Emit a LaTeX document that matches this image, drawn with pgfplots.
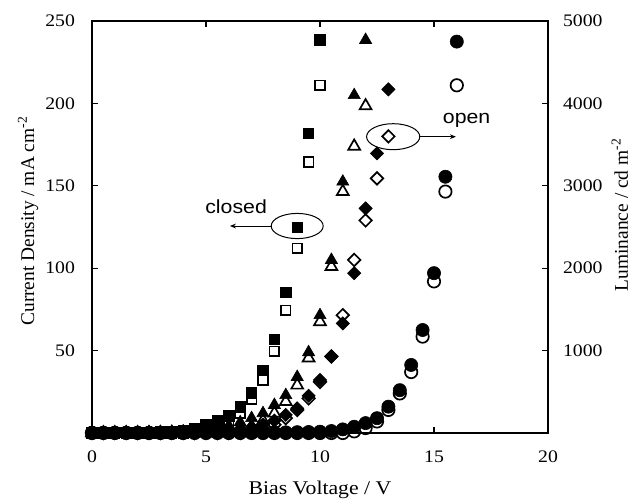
\documentclass[border=0pt]{standalone}
\usepackage{fontspec}
\setmainfont{Liberation Serif}[FakeStretch=1.12]
\newfontfamily\rotfont{Liberation Serif}
\newfontfamily\annfont{Liberation Sans}[FakeStretch=1.12]
\usepackage{pgfplots}
\pgfplotsset{compat=1.18}
\usetikzlibrary{arrows.meta}
\begin{document}
\begin{tikzpicture}
\pgfplotsset{
  base/.style={width=228pt,height=206pt,scale only axis,xmin=0,xmax=20,clip=false,
    tick align=inside, major tick length=3pt,
    axis line style={line width=0.8pt},
    every tick/.style={line width=0.6pt, black},
    /pgf/number format/assume math mode=true,
    /pgf/number format/1000 sep={},
    ticklabel style={font=\fontsize{8.8}{10}\selectfont}},
  openmk/.style={only marks, black, mark options={fill=white, draw=black, line width=0.85pt}},
  fillmk/.style={only marks, black, mark options={fill=black, draw=black, line width=0.3pt}},
}
% ---------- Luminance (open symbols, right axis) ----------
\begin{axis}[base, ymin=0, ymax=5000,
  axis x line=none, axis y line*=right,
  ytick={1000,2000,3000,4000,5000},
  yticklabel style={xshift=4pt},
  ylabel={Luminance / cd m\textsuperscript{-2}},
  every axis y label/.style={at={(axis description cs:1.175,0.53)}, rotate=90, anchor=base,
    font=\rotfont\fontsize{9.7}{11}\selectfont}]
% open squares
\addplot[openmk, mark=square*, mark size=2.4pt] coordinates {
 (0,0) (0.5,0) (1,0) (1.5,0) (2,0) (2.5,0) (3,0) (3.5,0) (4,0) (4.5,10) (5,30) (5.5,60)
 (6,120) (6.5,240) (7,410) (7.5,640) (8,990) (8.5,1490) (9,2240) (9.5,3290) (10,4220)};
% open triangles
\addplot[openmk, mark=triangle*, mark size=3.4pt] coordinates {
 (0,0) (0.5,0) (1,0) (1.5,0) (2,0) (2.5,0) (3,0) (3.5,0) (4,0) (4.5,0) (5,0) (5.5,0)
 (6,20) (6.5,40) (7,80) (7.5,150) (8,240) (8.5,380) (9,580) (9.5,910) (10,1350)
 (10.5,2020) (11,2930) (11.5,3480) (12,3970)};
% open diamonds
\addplot[only marks, mark=square*, mark size=2.2pt,
  mark options={fill=white, draw=black, line width=0.85pt, rotate=45}] coordinates {
 (0,0) (0.5,0) (1,0) (1.5,0) (2,0) (2.5,0) (3,0) (3.5,0) (4,0) (4.5,0) (5,0) (5.5,0)
 (6,0) (6.5,0) (7,20) (7.5,50) (8,100) (8.5,180) (9,280) (9.5,420) (10,620)
 (10.5,930) (11,1430) (11.5,2100) (12,2580) (12.5,3090) (13,3600)};
% open circles
\addplot[openmk, mark=*, mark size=3.1pt] coordinates {
 (0,0) (0.5,0) (1,0) (1.5,0) (2,0) (2.5,0) (3,0) (3.5,0) (4,0) (4.5,0) (5,0) (5.5,0)
 (6,0) (6.5,0) (7,0) (7.5,0) (8,0) (8.5,0) (9,0) (9.5,0) (10,0) (10.5,0) (11,0)
 (11.5,20) (12,60) (12.5,140) (13,280) (13.5,480) (14,740) (14.5,1170) (15,1840)
 (15.5,2930) (16,4220)};
\end{axis}
% ---------- Current density (filled symbols, left axis) ----------
\begin{axis}[base, ymin=0, ymax=250,
  xtick={0,5,10,15,20}, ytick={50,100,150,200,250}, ytick pos=left,
  yticklabel style={xshift=-5pt}, xticklabel style={yshift=-5.5pt},
  xlabel={Bias Voltage / V},
  every axis x label/.style={at={(axis description cs:0.5,-0.150)}, anchor=base,
    font=\fontsize{9.7}{11}\selectfont},
  ylabel={Current Density / mA cm\textsuperscript{-2}},
  every axis y label/.style={at={(axis description cs:-0.127,0.515)}, rotate=90, anchor=base,
    font=\rotfont\fontsize{9.7}{11}\selectfont}]
% filled squares
\addplot[fillmk, mark=square*, mark size=2.6pt] coordinates {
 (0,0.3) (0.5,0.3) (1,0.4) (1.5,0.4) (2,0.5) (2.5,0.6) (3,0.8) (3.5,1.0) (4,1.5)
 (4.5,3) (5,5) (5.5,7.5) (6,10.5) (6.5,16) (7,24.5) (7.5,38) (8,57) (8.5,85.5)
 (9,125) (9.5,182) (10,238.5)};
% filled triangles
\addplot[fillmk, mark=triangle*, mark size=3.5pt] coordinates {
 (0,0.3) (0.5,0.3) (1,0.3) (1.5,0.4) (2,0.4) (2.5,0.5) (3,0.6) (3.5,0.8) (4,1.0)
 (4.5,1.4) (5,2) (5.5,3) (6,4.5) (6.5,6.5) (7,9) (7.5,12) (8,17) (8.5,23) (9,34)
 (9.5,49) (10,71.5) (10.5,105) (11,152.5) (11.5,205) (12,238.5)};
% filled diamonds
\addplot[fillmk, mark=square*, mark size=2.3pt, mark options={fill=black, rotate=45}] coordinates {
 (0,0.3) (0.5,0.3) (1,0.3) (1.5,0.3) (2,0.3) (2.5,0.4) (3,0.4) (3.5,0.5) (4,0.6)
 (4.5,0.7) (5,0.8) (5.5,1.1) (6,1.5) (6.5,2.5) (7,3.5) (7.5,5) (8,7.5) (8.5,11)
 (9,15) (9.5,22.6) (10,32.2) (10.5,46.3) (11,66.5) (11.5,97) (12,136.3) (12.5,169.7)
 (13,208.5)};
% filled circles
\addplot[fillmk, mark=*, mark size=3.3pt] coordinates {
 (0,0.2) (0.5,0.2) (1,0.2) (1.5,0.2) (2,0.2) (2.5,0.2) (3,0.2) (3.5,0.2) (4,0.2)
 (4.5,0.3) (5,0.3) (5.5,0.3) (6,0.3) (6.5,0.3) (7,0.3) (7.5,0.4) (8,0.4) (8.5,0.4)
 (9,0.5) (9.5,0.6) (10,0.8) (10.5,1.2) (11,2.2) (11.5,3.8) (12,6) (12.5,9) (13,16)
 (13.5,26) (14,41.3) (14.5,62.5) (15,97) (15.5,155.5) (16,237.5)};
% annotations
\draw[line width=0.5pt] (axis cs:9.0,125.6) ellipse [x radius=13pt, y radius=6.3pt];
\draw[line width=0.5pt, -{Stealth[length=3pt,width=2.4pt]}] (axis cs:7.88,125.6) -- (axis cs:6.05,125.6);
\node[font=\annfont\fontsize{9.5}{11}\selectfont] at (axis cs:6.32,137.3) {closed};
\draw[line width=0.5pt] (axis cs:13.21,179.8) ellipse [x radius=13.3pt, y radius=6.5pt];
\draw[line width=0.5pt, -{Stealth[length=3pt,width=2.4pt]}] (axis cs:14.39,179.8) -- (axis cs:15.96,179.8);
\node[font=\annfont\fontsize{9.5}{11}\selectfont] at (axis cs:16.43,190) {open};
\end{axis}
\pgfresetboundingbox
\path (-46pt,-33pt) rectangle (270pt,216.5pt);
\end{tikzpicture}
\end{document}
